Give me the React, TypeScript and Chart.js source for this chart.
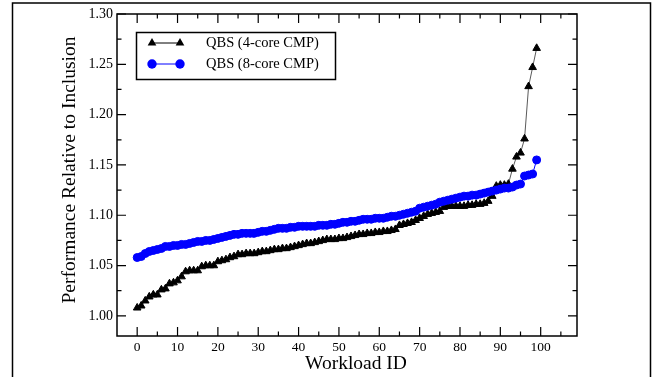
import React, { useEffect, useRef } from "react";
import { Chart, registerables } from "chart.js";

Chart.register(...registerables);

const qbs4Core: number[] = [
  1.008, 1.010, 1.015, 1.019, 1.021, 1.021, 1.026, 1.027, 1.032, 1.033,
  1.035, 1.039, 1.044, 1.045, 1.045, 1.045, 1.049, 1.050, 1.050, 1.050,
  1.054, 1.055, 1.056, 1.058, 1.059, 1.061, 1.061, 1.062, 1.062, 1.062,
  1.063, 1.064, 1.064, 1.065, 1.066, 1.066, 1.067, 1.067, 1.068, 1.069,
  1.070, 1.071, 1.072, 1.072, 1.073, 1.074, 1.075, 1.076, 1.076, 1.076,
  1.077, 1.077, 1.078, 1.079, 1.080, 1.081, 1.081, 1.082, 1.082, 1.083,
  1.083, 1.084, 1.084, 1.085, 1.086, 1.090, 1.091, 1.092, 1.093, 1.095,
  1.097, 1.099, 1.101, 1.102, 1.103, 1.104, 1.108, 1.109, 1.109, 1.109,
  1.109, 1.109, 1.110, 1.110, 1.111, 1.111, 1.112, 1.114, 1.119, 1.129,
  1.130, 1.130, 1.131, 1.146, 1.158, 1.162, 1.176, 1.228, 1.247, 1.266,
];

const qbs8Core: number[] = [
  1.058, 1.059, 1.062, 1.064, 1.065, 1.066, 1.067, 1.069, 1.069, 1.070,
  1.070, 1.071, 1.071, 1.072, 1.073, 1.074, 1.074, 1.075, 1.075, 1.076,
  1.077, 1.078, 1.079, 1.080, 1.081, 1.081, 1.082, 1.082, 1.082, 1.082,
  1.083, 1.084, 1.084, 1.085, 1.086, 1.087, 1.087, 1.087, 1.088, 1.088,
  1.089, 1.089, 1.089, 1.089, 1.089, 1.090, 1.090, 1.090, 1.091, 1.091,
  1.092, 1.093, 1.093, 1.094, 1.094, 1.095, 1.096, 1.096, 1.096, 1.097,
  1.097, 1.097, 1.098, 1.099, 1.099, 1.100, 1.101, 1.102, 1.103, 1.104,
  1.107, 1.108, 1.109, 1.110, 1.111, 1.113, 1.114, 1.115, 1.116, 1.117,
  1.118, 1.119, 1.119, 1.120, 1.120, 1.121, 1.122, 1.123, 1.124, 1.125,
  1.126, 1.127, 1.127, 1.128, 1.130, 1.131, 1.139, 1.140, 1.141, 1.155,
];

const xMajorTicks: number[] = [0, 10, 20, 30, 40, 50, 60, 70, 80, 90, 100];
const xMinorTicks: number[] = [5, 15, 25, 35, 45, 55, 65, 75, 85, 95, 105];
const yMajorTicks: number[] = [1.0, 1.05, 1.1, 1.15, 1.2, 1.25, 1.3];
const yMinorTicks: number[] = [1.025, 1.075, 1.125, 1.175, 1.225, 1.275];

const seriesLabels: string[] = ["QBS (4-core CMP)", "QBS (8-core CMP)"];
const xTitle = "Workload ID";
const yTitle = "Performance Relative to Inclusion";

const FONT = "'Liberation Serif', 'Times New Roman', serif";
const BLUE = "#0000ff";

function triangle(ctx: CanvasRenderingContext2D, x: number, y: number, r: number) {
  ctx.beginPath();
  for (let k = 0; k < 3; k++) {
    const a = (k * 2 * Math.PI) / 3;
    const px = x + Math.sin(a) * r;
    const py = y - Math.cos(a) * r;
    if (k === 0) ctx.moveTo(px, py);
    else ctx.lineTo(px, py);
  }
  ctx.closePath();
  ctx.fill();
}

const decorPlugin = {
  id: "decor",
  afterDraw(chart: any) {
    const ctx: CanvasRenderingContext2D = chart.ctx;
    const { left, right, top, bottom } = chart.chartArea;
    const xs = chart.scales.x;
    const ys = chart.scales.y;
    ctx.save();
    // outer frame
    ctx.strokeStyle = "#000";
    ctx.lineWidth = 1.5;
    ctx.strokeRect(12.5, 3, 638, 390);
    // plot box
    ctx.lineWidth = 1.5;
    ctx.strokeRect(left, top, right - left, bottom - top);
    // ticks
    ctx.lineWidth = 1.2;
    ctx.beginPath();
    const major = 9;
    const minor = 4.5;
    xMajorTicks.forEach((v) => {
      const px = xs.getPixelForValue(v);
      ctx.moveTo(px, bottom);
      ctx.lineTo(px, bottom - major);
      ctx.moveTo(px, top);
      ctx.lineTo(px, top + major);
    });
    xMinorTicks.forEach((v) => {
      const px = xs.getPixelForValue(v);
      ctx.moveTo(px, bottom);
      ctx.lineTo(px, bottom - minor);
      ctx.moveTo(px, top);
      ctx.lineTo(px, top + minor);
    });
    yMajorTicks.forEach((v) => {
      const py = ys.getPixelForValue(v);
      ctx.moveTo(left, py);
      ctx.lineTo(left + major, py);
      ctx.moveTo(right, py);
      ctx.lineTo(right - major, py);
    });
    yMinorTicks.forEach((v) => {
      const py = ys.getPixelForValue(v);
      ctx.moveTo(left, py);
      ctx.lineTo(left + minor, py);
      ctx.moveTo(right, py);
      ctx.lineTo(right - minor, py);
    });
    ctx.stroke();

    // titles
    ctx.fillStyle = "#000";
    ctx.font = `19.5px ${FONT}`;
    ctx.textAlign = "center";
    ctx.textBaseline = "middle";
    ctx.fillText(xTitle, 356, 364);
    ctx.save();
    ctx.translate(70, 170);
    ctx.rotate(-Math.PI / 2);
    ctx.fillText(yTitle, 0, 0);
    ctx.restore();

    // legend
    ctx.fillStyle = "#fff";
    ctx.fillRect(136.5, 32.5, 199, 47);
    ctx.lineWidth = 1.5;
    ctx.strokeStyle = "#000";
    ctx.strokeRect(136.5, 32.5, 199, 47);
    const rows = [43, 64];
    const x1 = 152;
    const x2 = 180;
    // row 1
    ctx.lineWidth = 1;
    ctx.strokeStyle = "#000";
    ctx.beginPath();
    ctx.moveTo(x1, rows[0]);
    ctx.lineTo(x2, rows[0]);
    ctx.stroke();
    ctx.fillStyle = "#000";
    triangle(ctx, x1, rows[0], 5);
    triangle(ctx, x2, rows[0], 5);
    // row 2
    ctx.strokeStyle = BLUE;
    ctx.beginPath();
    ctx.moveTo(x1, rows[1]);
    ctx.lineTo(x2, rows[1]);
    ctx.stroke();
    ctx.fillStyle = BLUE;
    [x1, x2].forEach((px) => {
      ctx.beginPath();
      ctx.arc(px, rows[1], 4.7, 0, Math.PI * 2);
      ctx.fill();
    });
    ctx.fillStyle = "#000";
    ctx.font = `14.5px ${FONT}`;
    ctx.textAlign = "left";
    ctx.fillText(seriesLabels[0], 206, rows[0]);
    ctx.fillText(seriesLabels[1], 206, rows[1]);
    ctx.restore();
  },
};

export default function App() {
  const ref = useRef<HTMLCanvasElement | null>(null);
  useEffect(() => {
    if (!ref.current) return;
    const chart = new Chart(ref.current, {
      type: "line",
      data: {
        datasets: [
          {
            label: seriesLabels[1],
            data: qbs8Core.map((v, i) => ({ x: i, y: v })),
            borderColor: BLUE,
            backgroundColor: BLUE,
            borderWidth: 1,
            pointStyle: "circle",
            pointRadius: 4,
            pointBorderWidth: 1,
            pointBorderColor: BLUE,
            pointBackgroundColor: BLUE,
            tension: 0,
            order: 0,
          },
          {
            label: seriesLabels[0],
            data: qbs4Core.map((v, i) => ({ x: i, y: v })),
            borderColor: "rgba(0,0,0,0.65)",
            backgroundColor: "#000",
            borderWidth: 1,
            pointStyle: "triangle",
            pointRadius: 4.4,
            pointBorderWidth: 1,
            pointBorderColor: "#000",
            pointBackgroundColor: "#000",
            tension: 0,
            order: 1,
          },
        ],
      },
      options: {
        animation: false,
        responsive: false,
        devicePixelRatio: 1,
        layout: { padding: { top: 14, right: 79, left: 0, bottom: 0 } },
        plugins: { legend: { display: false }, tooltip: { enabled: false } },
        scales: {
          x: {
            type: "linear",
            min: -5,
            max: 109,
            grid: { display: false, drawTicks: false },
            border: { display: false },
            afterBuildTicks: (s: any) => {
              s.ticks = xMajorTicks.map((v) => ({ value: v }));
            },
            afterFit: (s: any) => {
              s.height = 41;
            },
            ticks: {
              autoSkip: false,
              maxRotation: 0,
              padding: 3,
              color: "#000",
              font: { family: FONT, size: 13.5 },
              callback: (v: any) => String(v),
            },
          },
          y: {
            type: "linear",
            min: 0.98,
            max: 1.3,
            grid: { display: false, drawTicks: false },
            border: { display: false },
            afterBuildTicks: (s: any) => {
              s.ticks = yMajorTicks.map((v) => ({ value: v }));
            },
            afterFit: (s: any) => {
              s.width = 117;
            },
            ticks: {
              autoSkip: false,
              padding: 4,
              color: "#000",
              font: { family: FONT, size: 14 },
              callback: (v: any) => Number(v).toFixed(2),
            },
          },
        },
      },
      plugins: [decorPlugin],
    } as any);
    return () => chart.destroy();
  }, []);
  return (
    <div
      style={{
        position: "fixed",
        left: 0,
        top: 0,
        width: 656,
        height: 377,
        background: "#fff",
      }}
    >
      <canvas
        ref={ref}
        width={656}
        height={377}
        style={{ display: "block", width: 656, height: 377 }}
      />
    </div>
  );
}
